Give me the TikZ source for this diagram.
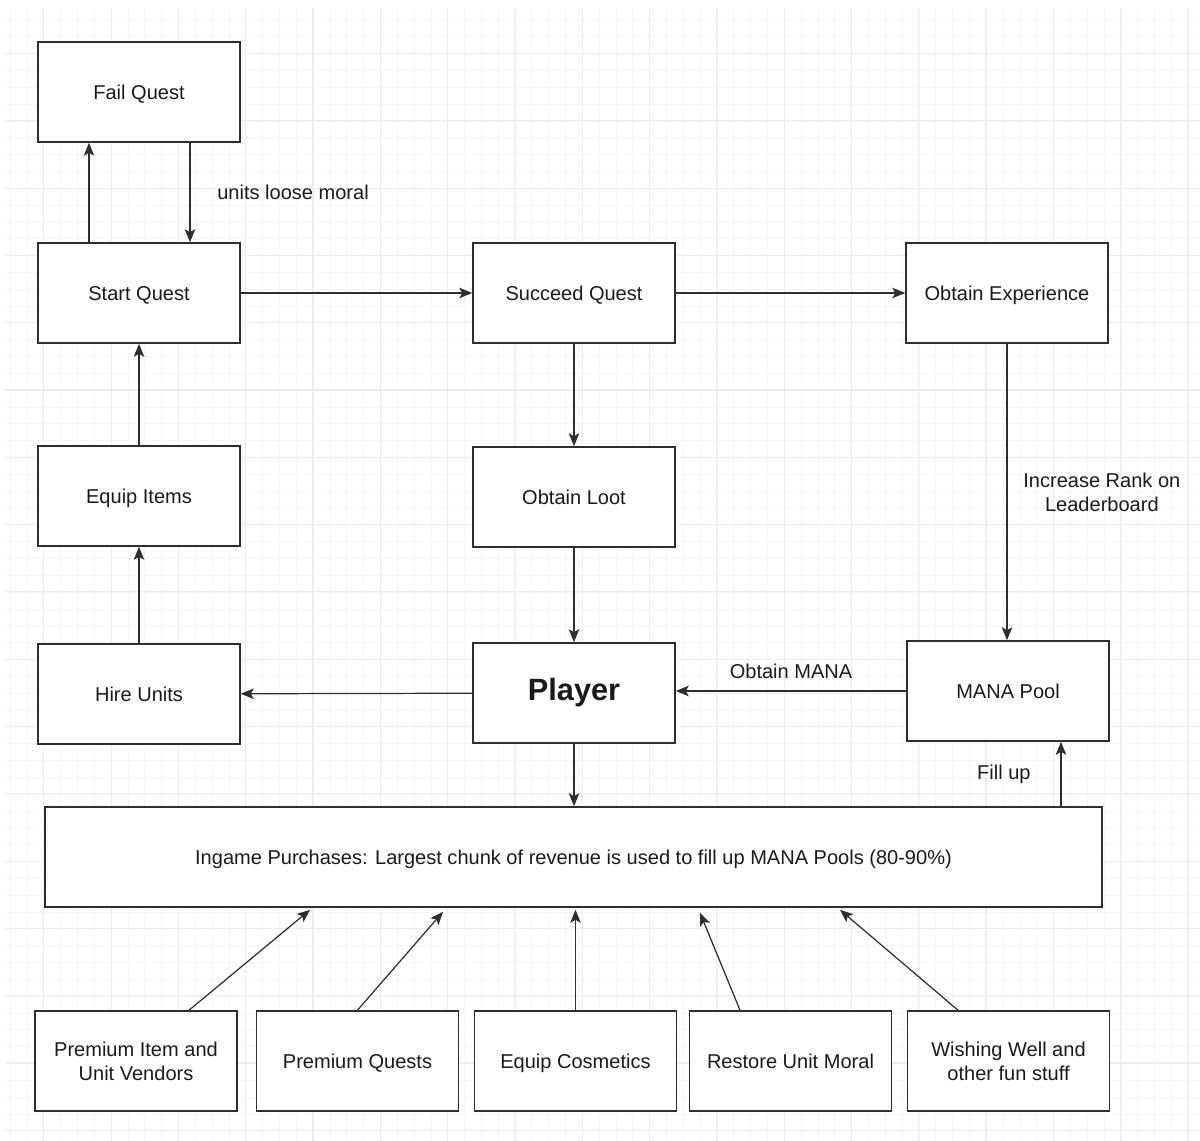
\documentclass[tikz,border=0pt]{standalone}
\usepackage{fontspec}
\setmainfont{Liberation Sans}
\usetikzlibrary{arrows.meta,positioning,calc}
\definecolor{questline}{HTML}{2E2E2E}
\definecolor{questtext}{HTML}{1A1A1A}
\definecolor{gridminor}{HTML}{F6F6F6}
\definecolor{gridmajor}{HTML}{EDEDED}

\begin{document}
\begin{tikzpicture}[
    x=0.02cm,y=-0.02cm,
    box/.style  = {rectangle,draw=questline,line width=0.9pt,fill=white,text=questtext,
                   align=center,font=\fontsize{11.4}{13.8}\selectfont,
                   minimum width=4.04cm,minimum height=2cm,inner sep=2pt},
    solo/.style = {box,text height=1.05em,text depth=0.2em},
    wide/.style = {solo,minimum width=21.14cm},
    lbl/.style  = {font=\fontsize{11.4}{13.8}\selectfont,text=questtext,align=center,inner sep=1pt},
    arr/.style  = {-{Stealth[length=2.6mm,width=2.1mm,inset=0.6mm]},questline,line width=0.7pt},
  ]

  \useasboundingbox (0,0) rectangle (1200,1141);

  % grille de fond
  \foreach \gx in {10.2,27.03,...,1200} \draw[gridminor,line width=0.5pt] (\gx,8) -- (\gx,1141);
  \foreach \gy in {20,36.83,...,1141} \draw[gridminor,line width=0.5pt] (5,\gy) -- (1200,\gy);
  \foreach \gx in {43.8,111.1,...,1200} \draw[gridmajor,line width=0.6pt] (\gx,8) -- (\gx,1141);
  \foreach \gy in {53.5,120.8,...,1141} \draw[gridmajor,line width=0.6pt] (5,\gy) -- (1200,\gy);

  % colonne de gauche
  \node[solo] (fail)  at (139,92)  {Fail Quest};
  \node[solo] (start) at (139,293) {Start Quest};
  \node[solo] (equip) at (139,496) {Equip Items};
  \node[solo] (hire)  at (139,694) {Hire Units};

  % colonne du milieu
  \node[solo] (succeed) at (574,293) {Succeed Quest};
  \node[solo] (loot)    at (574,497) {Obtain Loot};
  \node[solo,font=\fontsize{17.5}{20}\selectfont\bfseries] (player) at (574,693) {Player};

  % colonne de droite
  \node[solo] (exp)  at (1007,293) {Obtain Experience};
  \node[solo] (mana) at (1008,691) {MANA Pool};

  % achats
  \node[wide] (ingame) at (573.5,857)
    {Ingame Purchases: Largest chunk of revenue is used to fill up MANA Pools (80-90\%)};

  \node[box]  (vend)   at (136,1061)    {Premium Item and\\ Unit Vendors};
  \node[solo] (pquest) at (357.5,1061)  {Premium Quests};
  \node[solo] (cosm)   at (575.5,1061)  {Equip Cosmetics};
  \node[solo] (moral)  at (790.5,1061)  {Restore Unit Moral};
  \node[box]  (well)   at (1008.5,1061) {Wishing Well and\\ other fun stuff};

  % boucle de quete
  \draw[arr] ([xshift=-1cm]start.north) -- ([xshift=-1cm]fail.south);
  \draw[arr] ([xshift=1.02cm]fail.south) -- ([xshift=1.02cm]start.north)
    node[lbl,midway,anchor=west,xshift=0.5cm] (lbmoral) {units loose moral};
  \draw[arr] (start) -- (succeed);
  \draw[arr] (succeed) -- (exp);
  \draw[arr] (succeed) -- (loot);
  \draw[arr] (loot) -- (player);
  \draw[arr] (exp.south) -- (exp.south |- mana.north)
    node[lbl,midway,anchor=west,xshift=0.28cm] (lbrank) {Increase Rank on\\ Leaderboard};
  \draw[arr] (mana.west) -- (mana.west -| player.east)
    node[lbl,midway,above=0.2cm] (lbmana) {Obtain MANA};
  \draw[arr] (player) -- (hire);
  \draw[arr] (hire) -- (equip);
  \draw[arr] (equip) -- (start);

  % achats et reservoir
  \draw[arr] (player) -- (player.south |- ingame.north);
  \path ([xshift=1.06cm]mana.south) coordinate (fillup);
  \draw[arr] (fillup |- ingame.north) -- (fillup)
    node[lbl,midway,anchor=east,xshift=-0.56cm] (lbfill) {Fill up};

  \draw[arr] ([xshift=1.06cm]vend.north)   -- ([xshift=-5.27cm,yshift=-0.04cm]ingame.south);
  \draw[arr] (pquest.north)                -- ([xshift=-2.61cm,yshift=-0.08cm]ingame.south);
  \draw[arr] (cosm.north)                  -- ([yshift=-0.04cm]cosm.north |- ingame.south);
  \draw[arr] ([xshift=-1.01cm]moral.north) -- ([xshift=2.53cm,yshift=-0.1cm]ingame.south);
  \draw[arr] ([xshift=-1.01cm]well.north)  -- ([xshift=5.33cm,yshift=-0.04cm]ingame.south);

\end{tikzpicture}
\end{document}
